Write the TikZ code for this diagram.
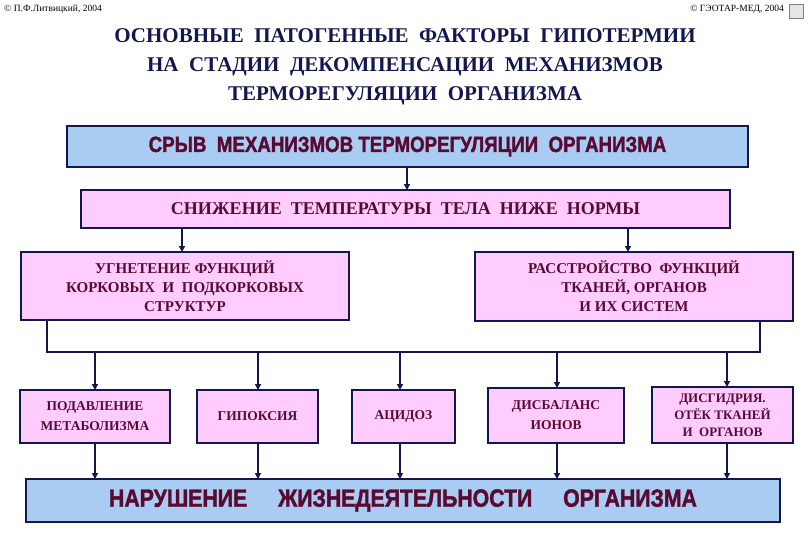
\documentclass[tikz,border=0pt]{standalone}
\usepackage{fontspec}
\setmainfont{Liberation Serif}
\newfontfamily\sansb{Liberation Sans}[UprightFont=* Bold,FakeStretch=0.85,FakeBold=1.5]
\usetikzlibrary{arrows.meta}
\definecolor{navy}{HTML}{141650}
\definecolor{maroon}{HTML}{5A0A30}
\definecolor{lblue}{HTML}{A8CCF2}
\definecolor{lpink}{HTML}{FFCCFF}
\begin{document}
\begin{tikzpicture}[x=1pt,y=-1pt,
 box/.style={draw=navy,line width=2pt,inner sep=0pt},
 txt/.style={text=maroon,font=\bfseries,align=center},
 arr/.style={draw=navy,line width=2pt,-{Triangle[length=6pt,width=6pt]}},
 ln/.style={draw=navy,line width=2.5pt}]
\useasboundingbox (0,0) rectangle (810,540);
\fill[white] (0,0) rectangle (810,540);
\node[anchor=west,font=\fontsize{9.5}{10}\selectfont,inner sep=0pt] (c1) at (4,9) {© П.Ф.Литвицкий, 2004};
\node[anchor=east,font=\fontsize{9.5}{10}\selectfont,inner sep=0pt] (c2) at (784,9) {© ГЭОТАР-МЕД, 2004};
\node[draw=gray,fill=gray!20,minimum size=14pt,inner sep=0pt] (logo) at (796,11) {};
\node[text=navy,font=\bfseries\fontsize{21}{29}\selectfont,align=center] (title) at (405,67)
 {ОСНОВНЫЕ \ ПАТОГЕННЫЕ \ ФАКТОРЫ \ ГИПОТЕРМИИ\\НА \ СТАДИИ \ ДЕКОМПЕНСАЦИИ \ МЕХАНИЗМОВ\\ТЕРМОРЕГУЛЯЦИИ \ ОРГАНИЗМА};
\path[box,fill=lblue] (67,126) rectangle (748,167) node[midway,text=maroon,font=\sansb\fontsize{22}{24}\selectfont] (t1) {СРЫВ \ МЕХАНИЗМОВ ТЕРМОРЕГУЛЯЦИИ \ ОРГАНИЗМА};
\path[box,fill=lpink] (81,190) rectangle (730,228) node[midway,txt,font=\bfseries\fontsize{18}{20}\selectfont] (t2) {СНИЖЕНИЕ \ ТЕМПЕРАТУРЫ \ ТЕЛА \ НИЖЕ \ НОРМЫ};
\path[box,fill=lpink] (21,252) rectangle (349,320) node[midway,txt,font=\bfseries\fontsize{15}{19}\selectfont] (l) {УГНЕТЕНИЕ ФУНКЦИЙ\\КОРКОВЫХ \ И \ ПОДКОРКОВЫХ\\СТРУКТУР};
\path[box,fill=lpink] (475,252) rectangle (793,321) node[midway,txt,font=\bfseries\fontsize{15}{19}\selectfont] (r) {РАССТРОЙСТВО \ ФУНКЦИЙ\\ТКАНЕЙ, ОРГАНОВ\\И ИХ СИСТЕМ};
\draw[arr] (407,167) -- (407,190);
\draw[arr] (182,228) -- (182,252);
\draw[arr] (628,228) -- (628,252);
\draw[ln] (47,320) -- (47,352) -- (760,352) -- (760,321);
\tikzset{sm/.style={txt,font=\bfseries\fontsize{13.5}{20}\selectfont}}
\path[box,fill=lpink] (20,390) rectangle (170,443) node[midway,sm] (s1) {ПОДАВЛЕНИЕ\\МЕТАБОЛИЗМА};
\path[box,fill=lpink] (197,390) rectangle (318,443) node[midway,sm] (s2) {ГИПОКСИЯ};
\path[box,fill=lpink] (352,390) rectangle (455,443) node[midway,sm] (s3) {АЦИДОЗ};
\path[box,fill=lpink] (488,388) rectangle (624,443) node[midway,sm] (s4) {ДИСБАЛАНС\\ИОНОВ};
\path[box,fill=lpink] (652,387) rectangle (793,443) node[midway,txt,font=\bfseries\fontsize{13}{17}\selectfont] (s5) {ДИСГИДРИЯ.\\ОТЁК ТКАНЕЙ\\И \ ОРГАНОВ};
\path[box,fill=lblue] (26,479) rectangle (780,522) node[midway,text=maroon,font=\sansb\fontsize{25}{27}\selectfont] (bot) {НАРУШЕНИЕ \quad ЖИЗНЕДЕЯТЕЛЬНОСТИ \quad ОРГАНИЗМА};
\foreach \x/\t in {95/390,258/390,400/390,557/388,727/387}{
 \draw[arr] (\x,352) -- (\x,\t);
 \draw[arr] (\x,443) -- (\x,479);
}
\end{tikzpicture}
\end{document}
